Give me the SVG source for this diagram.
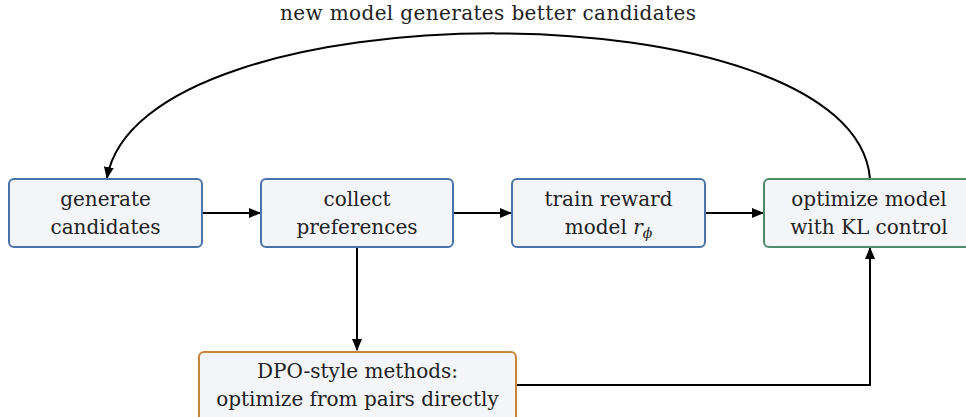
<svg xmlns="http://www.w3.org/2000/svg" width="966" height="417" viewBox="0 0 966 417">
<defs>
<marker id="ah" viewBox="0 0 12 10" refX="11" refY="5" markerWidth="12" markerHeight="10" markerUnits="userSpaceOnUse" orient="auto">
<path d="M0,0 L12,5 L0,10 Z" fill="#000"/>
</marker>
<style>
.box{fill:#f4f5f8;stroke-width:2}
.blue{stroke:#4a73aa}
.green{stroke:#4e8b6b}
.orange{stroke:#c8843a}
.t{font-family:'DejaVu Serif',serif;font-size:20px;fill:#222;text-anchor:middle}
.edge{fill:none;stroke:#000;stroke-width:2;marker-end:url(#ah)}
</style>
</defs>
<rect width="966" height="417" fill="#fff"/>
<g id="connectors">
<line class="edge" x1="202" y1="213" x2="260" y2="213"/>
<line class="edge" x1="453" y1="213" x2="511" y2="213"/>
<line class="edge" x1="705" y1="213" x2="763" y2="213"/>
<line class="edge" x1="357" y1="247" x2="357" y2="350"/>
<polyline class="edge" points="516,385 870,385 870,248"/>
<path class="edge" d="M870,179 C855,-15 140,-15 107,178"/>
</g>
<g id="label-loop"><text class="t" x="488" y="20" textLength="416" lengthAdjust="spacing">new model generates better candidates</text></g>
<g id="n1"><rect class="box blue" x="9" y="179" width="193" height="68" rx="5"/><text class="t" x="105.5" y="206">generate</text><text class="t" x="105.5" y="234">candidates</text></g>
<g id="n2"><rect class="box blue" x="261" y="179" width="192" height="68" rx="5"/><text class="t" x="357" y="206">collect</text><text class="t" x="357" y="234">preferences</text></g>
<g id="n3"><rect class="box blue" x="512" y="179" width="193" height="68" rx="5"/><text class="t" x="608.5" y="206">train reward</text><text class="t" x="608.5" y="234">model <tspan font-style="italic">r</tspan><tspan font-style="italic" font-size="14" dy="4">ϕ</tspan></text></g>
<g id="n4"><rect class="box green" x="764" y="179" width="210" height="68" rx="5"/><text class="t" x="869" y="206">optimize model</text><text class="t" x="869" y="234">with KL control</text></g>
<g id="n5"><rect class="box orange" x="199" y="352" width="317" height="75" rx="5"/><text class="t" x="357.5" y="378">DPO-style methods:</text><text class="t" x="357.5" y="406">optimize from pairs directly</text></g>
</svg>
